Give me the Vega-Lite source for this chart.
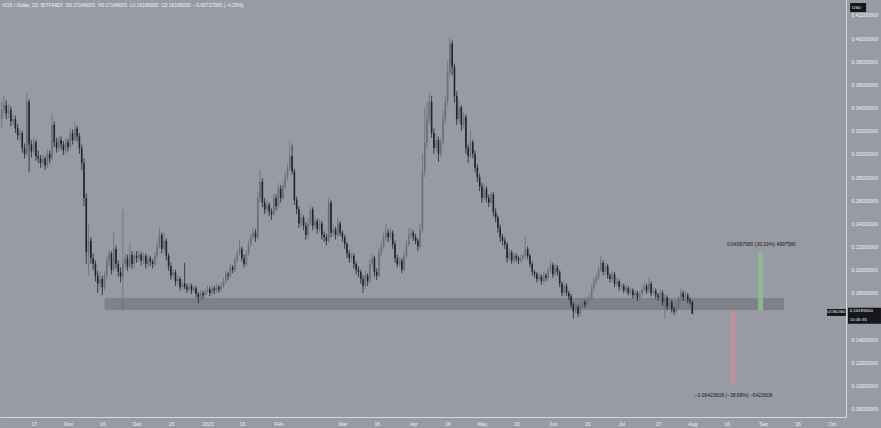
{
 "$schema": "https://vega.github.io/schema/vega-lite/v6.json",
 "width": 846,
 "height": 417,
 "autosize": {"type": "none"},
 "padding": {"left": 0, "top": 0, "right": 35, "bottom": 11},
 "background": "#989ba4",
 "config": {
  "view": {"stroke": null},
  "font": "Liberation Sans",
  "axis": {"ticks": false, "grid": false, "domainColor": "#d6d8dd", "domainWidth": 1, "labelColor": "#f4f4f4", "labelFontSize": 5, "labelFont": "Liberation Sans", "labelFlush": false, "labelOverlap": false, "labelSeparation": 0, "title": null}
 },
 "datasets": {
  "candles": [
   {"t":"2022-10-03","o":0.330,"h":0.345,"l":0.322,"c":0.338},
   {"t":"2022-10-04","o":0.338,"h":0.350,"l":0.333,"c":0.342},
   {"t":"2022-10-05","o":0.342,"h":0.346,"l":0.330,"c":0.335},
   {"t":"2022-10-06","o":0.335,"h":0.343,"l":0.331,"c":0.338},
   {"t":"2022-10-07","o":0.338,"h":0.341,"l":0.324,"c":0.328},
   {"t":"2022-10-08","o":0.328,"h":0.334,"l":0.325,"c":0.330},
   {"t":"2022-10-09","o":0.330,"h":0.333,"l":0.318,"c":0.322},
   {"t":"2022-10-10","o":0.322,"h":0.326,"l":0.312,"c":0.316},
   {"t":"2022-10-11","o":0.316,"h":0.322,"l":0.311,"c":0.318},
   {"t":"2022-10-12","o":0.318,"h":0.320,"l":0.301,"c":0.305},
   {"t":"2022-10-13","o":0.305,"h":0.309,"l":0.296,"c":0.300},
   {"t":"2022-10-14","o":0.300,"h":0.352,"l":0.298,"c":0.345},
   {"t":"2022-10-15","o":0.345,"h":0.347,"l":0.284,"c":0.308},
   {"t":"2022-10-16","o":0.308,"h":0.312,"l":0.297,"c":0.302},
   {"t":"2022-10-17","o":0.302,"h":0.314,"l":0.299,"c":0.310},
   {"t":"2022-10-18","o":0.310,"h":0.312,"l":0.294,"c":0.298},
   {"t":"2022-10-19","o":0.298,"h":0.303,"l":0.292,"c":0.296},
   {"t":"2022-10-20","o":0.296,"h":0.299,"l":0.288,"c":0.292},
   {"t":"2022-10-21","o":0.292,"h":0.300,"l":0.289,"c":0.296},
   {"t":"2022-10-22","o":0.296,"h":0.298,"l":0.286,"c":0.290},
   {"t":"2022-10-23","o":0.290,"h":0.304,"l":0.288,"c":0.300},
   {"t":"2022-10-24","o":0.300,"h":0.303,"l":0.292,"c":0.296},
   {"t":"2022-10-25","o":0.296,"h":0.335,"l":0.294,"c":0.325},
   {"t":"2022-10-26","o":0.325,"h":0.328,"l":0.306,"c":0.310},
   {"t":"2022-10-27","o":0.310,"h":0.314,"l":0.301,"c":0.305},
   {"t":"2022-10-28","o":0.305,"h":0.316,"l":0.302,"c":0.312},
   {"t":"2022-10-29","o":0.312,"h":0.315,"l":0.304,"c":0.308},
   {"t":"2022-10-30","o":0.308,"h":0.311,"l":0.299,"c":0.303},
   {"t":"2022-10-31","o":0.303,"h":0.314,"l":0.300,"c":0.310},
   {"t":"2022-11-01","o":0.310,"h":0.313,"l":0.302,"c":0.306},
   {"t":"2022-11-02","o":0.306,"h":0.322,"l":0.304,"c":0.318},
   {"t":"2022-11-03","o":0.318,"h":0.321,"l":0.308,"c":0.312},
   {"t":"2022-11-04","o":0.312,"h":0.328,"l":0.310,"c":0.322},
   {"t":"2022-11-05","o":0.322,"h":0.324,"l":0.311,"c":0.315},
   {"t":"2022-11-06","o":0.315,"h":0.318,"l":0.300,"c":0.305},
   {"t":"2022-11-07","o":0.305,"h":0.308,"l":0.286,"c":0.292},
   {"t":"2022-11-08","o":0.292,"h":0.296,"l":0.255,"c":0.262},
   {"t":"2022-11-09","o":0.262,"h":0.266,"l":0.205,"c":0.215},
   {"t":"2022-11-10","o":0.215,"h":0.240,"l":0.195,"c":0.225},
   {"t":"2022-11-11","o":0.225,"h":0.228,"l":0.205,"c":0.210},
   {"t":"2022-11-12","o":0.210,"h":0.214,"l":0.200,"c":0.205},
   {"t":"2022-11-13","o":0.205,"h":0.208,"l":0.190,"c":0.195},
   {"t":"2022-11-14","o":0.195,"h":0.199,"l":0.180,"c":0.188},
   {"t":"2022-11-15","o":0.188,"h":0.198,"l":0.184,"c":0.192},
   {"t":"2022-11-16","o":0.192,"h":0.195,"l":0.178,"c":0.185},
   {"t":"2022-11-17","o":0.185,"h":0.199,"l":0.182,"c":0.195},
   {"t":"2022-11-18","o":0.195,"h":0.212,"l":0.192,"c":0.208},
   {"t":"2022-11-19","o":0.208,"h":0.218,"l":0.204,"c":0.214},
   {"t":"2022-11-20","o":0.214,"h":0.216,"l":0.196,"c":0.200},
   {"t":"2022-11-21","o":0.200,"h":0.232,"l":0.198,"c":0.218},
   {"t":"2022-11-22","o":0.218,"h":0.221,"l":0.201,"c":0.205},
   {"t":"2022-11-23","o":0.205,"h":0.208,"l":0.194,"c":0.198},
   {"t":"2022-11-24","o":0.198,"h":0.202,"l":0.189,"c":0.194},
   {"t":"2022-11-25","o":0.194,"h":0.252,"l":0.165,"c":0.205},
   {"t":"2022-11-26","o":0.205,"h":0.214,"l":0.201,"c":0.210},
   {"t":"2022-11-27","o":0.210,"h":0.213,"l":0.199,"c":0.203},
   {"t":"2022-11-28","o":0.203,"h":0.223,"l":0.201,"c":0.213},
   {"t":"2022-11-29","o":0.213,"h":0.216,"l":0.201,"c":0.205},
   {"t":"2022-11-30","o":0.205,"h":0.215,"l":0.202,"c":0.212},
   {"t":"2022-12-01","o":0.212,"h":0.216,"l":0.206,"c":0.210},
   {"t":"2022-12-02","o":0.210,"h":0.217,"l":0.207,"c":0.213},
   {"t":"2022-12-03","o":0.213,"h":0.215,"l":0.204,"c":0.208},
   {"t":"2022-12-04","o":0.208,"h":0.215,"l":0.205,"c":0.212},
   {"t":"2022-12-05","o":0.212,"h":0.214,"l":0.201,"c":0.205},
   {"t":"2022-12-06","o":0.205,"h":0.213,"l":0.202,"c":0.210},
   {"t":"2022-12-07","o":0.210,"h":0.212,"l":0.203,"c":0.207},
   {"t":"2022-12-08","o":0.207,"h":0.209,"l":0.201,"c":0.205},
   {"t":"2022-12-09","o":0.205,"h":0.215,"l":0.203,"c":0.212},
   {"t":"2022-12-10","o":0.212,"h":0.224,"l":0.210,"c":0.220},
   {"t":"2022-12-11","o":0.220,"h":0.236,"l":0.218,"c":0.230},
   {"t":"2022-12-12","o":0.230,"h":0.232,"l":0.214,"c":0.218},
   {"t":"2022-12-13","o":0.218,"h":0.232,"l":0.215,"c":0.225},
   {"t":"2022-12-14","o":0.225,"h":0.227,"l":0.208,"c":0.212},
   {"t":"2022-12-15","o":0.212,"h":0.214,"l":0.199,"c":0.203},
   {"t":"2022-12-16","o":0.203,"h":0.206,"l":0.191,"c":0.195},
   {"t":"2022-12-17","o":0.195,"h":0.201,"l":0.192,"c":0.198},
   {"t":"2022-12-18","o":0.198,"h":0.200,"l":0.186,"c":0.190},
   {"t":"2022-12-19","o":0.190,"h":0.195,"l":0.187,"c":0.192},
   {"t":"2022-12-20","o":0.192,"h":0.194,"l":0.182,"c":0.185},
   {"t":"2022-12-21","o":0.185,"h":0.191,"l":0.183,"c":0.188},
   {"t":"2022-12-22","o":0.188,"h":0.206,"l":0.183,"c":0.185},
   {"t":"2022-12-23","o":0.185,"h":0.188,"l":0.180,"c":0.183},
   {"t":"2022-12-24","o":0.183,"h":0.189,"l":0.181,"c":0.186},
   {"t":"2022-12-25","o":0.186,"h":0.188,"l":0.179,"c":0.182},
   {"t":"2022-12-26","o":0.182,"h":0.187,"l":0.180,"c":0.184},
   {"t":"2022-12-27","o":0.184,"h":0.186,"l":0.176,"c":0.179},
   {"t":"2022-12-28","o":0.179,"h":0.181,"l":0.171,"c":0.176},
   {"t":"2022-12-29","o":0.176,"h":0.183,"l":0.174,"c":0.180},
   {"t":"2022-12-30","o":0.180,"h":0.182,"l":0.175,"c":0.178},
   {"t":"2022-12-31","o":0.178,"h":0.184,"l":0.176,"c":0.181},
   {"t":"2023-01-01","o":0.181,"h":0.186,"l":0.179,"c":0.183},
   {"t":"2023-01-02","o":0.183,"h":0.185,"l":0.177,"c":0.180},
   {"t":"2023-01-03","o":0.180,"h":0.187,"l":0.178,"c":0.184},
   {"t":"2023-01-04","o":0.184,"h":0.186,"l":0.179,"c":0.182},
   {"t":"2023-01-05","o":0.182,"h":0.188,"l":0.180,"c":0.185},
   {"t":"2023-01-06","o":0.185,"h":0.187,"l":0.180,"c":0.183},
   {"t":"2023-01-07","o":0.183,"h":0.189,"l":0.181,"c":0.186},
   {"t":"2023-01-08","o":0.186,"h":0.193,"l":0.184,"c":0.190},
   {"t":"2023-01-09","o":0.190,"h":0.199,"l":0.188,"c":0.196},
   {"t":"2023-01-10","o":0.196,"h":0.198,"l":0.191,"c":0.195},
   {"t":"2023-01-11","o":0.195,"h":0.205,"l":0.193,"c":0.202},
   {"t":"2023-01-12","o":0.202,"h":0.204,"l":0.197,"c":0.200},
   {"t":"2023-01-13","o":0.200,"h":0.211,"l":0.198,"c":0.208},
   {"t":"2023-01-14","o":0.208,"h":0.217,"l":0.206,"c":0.214},
   {"t":"2023-01-15","o":0.214,"h":0.226,"l":0.212,"c":0.218},
   {"t":"2023-01-16","o":0.218,"h":0.220,"l":0.207,"c":0.210},
   {"t":"2023-01-17","o":0.210,"h":0.213,"l":0.202,"c":0.205},
   {"t":"2023-01-18","o":0.205,"h":0.217,"l":0.203,"c":0.214},
   {"t":"2023-01-19","o":0.214,"h":0.225,"l":0.212,"c":0.222},
   {"t":"2023-01-20","o":0.222,"h":0.231,"l":0.220,"c":0.228},
   {"t":"2023-01-21","o":0.228,"h":0.236,"l":0.226,"c":0.232},
   {"t":"2023-01-22","o":0.232,"h":0.235,"l":0.224,"c":0.228},
   {"t":"2023-01-23","o":0.228,"h":0.268,"l":0.226,"c":0.262},
   {"t":"2023-01-24","o":0.262,"h":0.286,"l":0.258,"c":0.276},
   {"t":"2023-01-25","o":0.276,"h":0.279,"l":0.254,"c":0.258},
   {"t":"2023-01-26","o":0.258,"h":0.262,"l":0.248,"c":0.252},
   {"t":"2023-01-27","o":0.252,"h":0.260,"l":0.249,"c":0.256},
   {"t":"2023-01-28","o":0.256,"h":0.258,"l":0.246,"c":0.250},
   {"t":"2023-01-29","o":0.250,"h":0.253,"l":0.243,"c":0.248},
   {"t":"2023-01-30","o":0.248,"h":0.266,"l":0.246,"c":0.262},
   {"t":"2023-01-31","o":0.262,"h":0.265,"l":0.251,"c":0.255},
   {"t":"2023-02-01","o":0.255,"h":0.275,"l":0.253,"c":0.270},
   {"t":"2023-02-02","o":0.270,"h":0.273,"l":0.258,"c":0.262},
   {"t":"2023-02-03","o":0.262,"h":0.276,"l":0.260,"c":0.272},
   {"t":"2023-02-04","o":0.272,"h":0.284,"l":0.270,"c":0.280},
   {"t":"2023-02-05","o":0.280,"h":0.292,"l":0.277,"c":0.288},
   {"t":"2023-02-06","o":0.288,"h":0.310,"l":0.285,"c":0.298},
   {"t":"2023-02-07","o":0.298,"h":0.308,"l":0.282,"c":0.285},
   {"t":"2023-02-08","o":0.285,"h":0.287,"l":0.256,"c":0.260},
   {"t":"2023-02-09","o":0.260,"h":0.263,"l":0.248,"c":0.252},
   {"t":"2023-02-10","o":0.252,"h":0.255,"l":0.236,"c":0.240},
   {"t":"2023-02-11","o":0.240,"h":0.249,"l":0.237,"c":0.245},
   {"t":"2023-02-12","o":0.245,"h":0.247,"l":0.234,"c":0.238},
   {"t":"2023-02-13","o":0.238,"h":0.241,"l":0.226,"c":0.230},
   {"t":"2023-02-14","o":0.230,"h":0.244,"l":0.228,"c":0.240},
   {"t":"2023-02-15","o":0.240,"h":0.256,"l":0.238,"c":0.252},
   {"t":"2023-02-16","o":0.252,"h":0.254,"l":0.234,"c":0.238},
   {"t":"2023-02-17","o":0.238,"h":0.246,"l":0.235,"c":0.242},
   {"t":"2023-02-18","o":0.242,"h":0.244,"l":0.231,"c":0.235},
   {"t":"2023-02-19","o":0.235,"h":0.244,"l":0.233,"c":0.240},
   {"t":"2023-02-20","o":0.240,"h":0.242,"l":0.226,"c":0.230},
   {"t":"2023-02-21","o":0.230,"h":0.233,"l":0.224,"c":0.228},
   {"t":"2023-02-22","o":0.228,"h":0.231,"l":0.221,"c":0.225},
   {"t":"2023-02-23","o":0.225,"h":0.262,"l":0.223,"c":0.258},
   {"t":"2023-02-24","o":0.258,"h":0.260,"l":0.228,"c":0.232},
   {"t":"2023-02-25","o":0.232,"h":0.239,"l":0.229,"c":0.235},
   {"t":"2023-02-26","o":0.235,"h":0.237,"l":0.226,"c":0.230},
   {"t":"2023-02-27","o":0.230,"h":0.245,"l":0.228,"c":0.240},
   {"t":"2023-02-28","o":0.240,"h":0.242,"l":0.229,"c":0.232},
   {"t":"2023-03-01","o":0.232,"h":0.234,"l":0.224,"c":0.228},
   {"t":"2023-03-02","o":0.228,"h":0.230,"l":0.218,"c":0.222},
   {"t":"2023-03-03","o":0.222,"h":0.224,"l":0.210,"c":0.214},
   {"t":"2023-03-04","o":0.214,"h":0.217,"l":0.206,"c":0.210},
   {"t":"2023-03-05","o":0.210,"h":0.215,"l":0.207,"c":0.212},
   {"t":"2023-03-06","o":0.212,"h":0.214,"l":0.201,"c":0.205},
   {"t":"2023-03-07","o":0.205,"h":0.207,"l":0.196,"c":0.200},
   {"t":"2023-03-08","o":0.200,"h":0.203,"l":0.194,"c":0.198},
   {"t":"2023-03-09","o":0.198,"h":0.200,"l":0.188,"c":0.192},
   {"t":"2023-03-10","o":0.192,"h":0.195,"l":0.180,"c":0.186},
   {"t":"2023-03-11","o":0.186,"h":0.199,"l":0.183,"c":0.195},
   {"t":"2023-03-12","o":0.195,"h":0.197,"l":0.186,"c":0.190},
   {"t":"2023-03-13","o":0.190,"h":0.209,"l":0.188,"c":0.205},
   {"t":"2023-03-14","o":0.205,"h":0.214,"l":0.202,"c":0.210},
   {"t":"2023-03-15","o":0.210,"h":0.212,"l":0.194,"c":0.198},
   {"t":"2023-03-16","o":0.198,"h":0.201,"l":0.191,"c":0.195},
   {"t":"2023-03-17","o":0.195,"h":0.219,"l":0.193,"c":0.215},
   {"t":"2023-03-18","o":0.215,"h":0.224,"l":0.212,"c":0.220},
   {"t":"2023-03-19","o":0.220,"h":0.232,"l":0.218,"c":0.228},
   {"t":"2023-03-20","o":0.228,"h":0.240,"l":0.225,"c":0.232},
   {"t":"2023-03-21","o":0.232,"h":0.235,"l":0.224,"c":0.228},
   {"t":"2023-03-22","o":0.228,"h":0.236,"l":0.226,"c":0.232},
   {"t":"2023-03-23","o":0.232,"h":0.234,"l":0.218,"c":0.222},
   {"t":"2023-03-24","o":0.222,"h":0.225,"l":0.206,"c":0.210},
   {"t":"2023-03-25","o":0.210,"h":0.213,"l":0.202,"c":0.205},
   {"t":"2023-03-26","o":0.205,"h":0.211,"l":0.203,"c":0.208},
   {"t":"2023-03-27","o":0.208,"h":0.210,"l":0.197,"c":0.200},
   {"t":"2023-03-28","o":0.200,"h":0.216,"l":0.198,"c":0.212},
   {"t":"2023-03-29","o":0.212,"h":0.226,"l":0.210,"c":0.222},
   {"t":"2023-03-30","o":0.222,"h":0.236,"l":0.220,"c":0.230},
   {"t":"2023-03-31","o":0.230,"h":0.235,"l":0.227,"c":0.232},
   {"t":"2023-04-01","o":0.232,"h":0.234,"l":0.225,"c":0.228},
   {"t":"2023-04-02","o":0.228,"h":0.231,"l":0.222,"c":0.225},
   {"t":"2023-04-03","o":0.225,"h":0.227,"l":0.216,"c":0.220},
   {"t":"2023-04-04","o":0.220,"h":0.240,"l":0.218,"c":0.235},
   {"t":"2023-04-05","o":0.235,"h":0.300,"l":0.232,"c":0.285},
   {"t":"2023-04-06","o":0.285,"h":0.340,"l":0.280,"c":0.310},
   {"t":"2023-04-07","o":0.310,"h":0.345,"l":0.305,"c":0.330},
   {"t":"2023-04-08","o":0.330,"h":0.352,"l":0.325,"c":0.345},
   {"t":"2023-04-09","o":0.345,"h":0.350,"l":0.314,"c":0.318},
   {"t":"2023-04-10","o":0.318,"h":0.322,"l":0.300,"c":0.305},
   {"t":"2023-04-11","o":0.305,"h":0.318,"l":0.302,"c":0.312},
   {"t":"2023-04-12","o":0.312,"h":0.315,"l":0.293,"c":0.300},
   {"t":"2023-04-13","o":0.300,"h":0.314,"l":0.297,"c":0.310},
   {"t":"2023-04-14","o":0.310,"h":0.338,"l":0.308,"c":0.330},
   {"t":"2023-04-15","o":0.330,"h":0.350,"l":0.326,"c":0.345},
   {"t":"2023-04-16","o":0.345,"h":0.380,"l":0.342,"c":0.370},
   {"t":"2023-04-17","o":0.370,"h":0.400,"l":0.366,"c":0.395},
   {"t":"2023-04-18","o":0.395,"h":0.398,"l":0.368,"c":0.375},
   {"t":"2023-04-19","o":0.375,"h":0.378,"l":0.344,"c":0.350},
   {"t":"2023-04-20","o":0.350,"h":0.354,"l":0.325,"c":0.330},
   {"t":"2023-04-21","o":0.330,"h":0.345,"l":0.327,"c":0.340},
   {"t":"2023-04-22","o":0.340,"h":0.342,"l":0.320,"c":0.325},
   {"t":"2023-04-23","o":0.325,"h":0.336,"l":0.322,"c":0.332},
   {"t":"2023-04-24","o":0.332,"h":0.334,"l":0.300,"c":0.305},
   {"t":"2023-04-25","o":0.305,"h":0.308,"l":0.292,"c":0.298},
   {"t":"2023-04-26","o":0.298,"h":0.320,"l":0.296,"c":0.310},
   {"t":"2023-04-27","o":0.310,"h":0.312,"l":0.296,"c":0.300},
   {"t":"2023-04-28","o":0.300,"h":0.303,"l":0.284,"c":0.288},
   {"t":"2023-04-29","o":0.288,"h":0.291,"l":0.276,"c":0.280},
   {"t":"2023-04-30","o":0.280,"h":0.283,"l":0.268,"c":0.272},
   {"t":"2023-05-01","o":0.272,"h":0.275,"l":0.258,"c":0.262},
   {"t":"2023-05-02","o":0.262,"h":0.274,"l":0.260,"c":0.270},
   {"t":"2023-05-03","o":0.270,"h":0.272,"l":0.258,"c":0.262},
   {"t":"2023-05-04","o":0.262,"h":0.265,"l":0.254,"c":0.258},
   {"t":"2023-05-05","o":0.258,"h":0.268,"l":0.256,"c":0.265},
   {"t":"2023-05-06","o":0.265,"h":0.267,"l":0.246,"c":0.250},
   {"t":"2023-05-07","o":0.250,"h":0.253,"l":0.241,"c":0.245},
   {"t":"2023-05-08","o":0.245,"h":0.247,"l":0.232,"c":0.236},
   {"t":"2023-05-09","o":0.236,"h":0.239,"l":0.224,"c":0.228},
   {"t":"2023-05-10","o":0.228,"h":0.231,"l":0.221,"c":0.225},
   {"t":"2023-05-11","o":0.225,"h":0.228,"l":0.218,"c":0.222},
   {"t":"2023-05-12","o":0.222,"h":0.224,"l":0.206,"c":0.210},
   {"t":"2023-05-13","o":0.210,"h":0.218,"l":0.208,"c":0.215},
   {"t":"2023-05-14","o":0.215,"h":0.217,"l":0.205,"c":0.208},
   {"t":"2023-05-15","o":0.208,"h":0.215,"l":0.206,"c":0.212},
   {"t":"2023-05-16","o":0.212,"h":0.214,"l":0.207,"c":0.210},
   {"t":"2023-05-17","o":0.210,"h":0.212,"l":0.205,"c":0.208},
   {"t":"2023-05-18","o":0.208,"h":0.213,"l":0.206,"c":0.210},
   {"t":"2023-05-19","o":0.210,"h":0.215,"l":0.208,"c":0.212},
   {"t":"2023-05-20","o":0.212,"h":0.228,"l":0.210,"c":0.218},
   {"t":"2023-05-21","o":0.218,"h":0.220,"l":0.209,"c":0.212},
   {"t":"2023-05-22","o":0.212,"h":0.214,"l":0.202,"c":0.205},
   {"t":"2023-05-23","o":0.205,"h":0.207,"l":0.195,"c":0.198},
   {"t":"2023-05-24","o":0.198,"h":0.200,"l":0.193,"c":0.196},
   {"t":"2023-05-25","o":0.196,"h":0.198,"l":0.189,"c":0.192},
   {"t":"2023-05-26","o":0.192,"h":0.197,"l":0.190,"c":0.194},
   {"t":"2023-05-27","o":0.194,"h":0.196,"l":0.187,"c":0.190},
   {"t":"2023-05-28","o":0.190,"h":0.198,"l":0.188,"c":0.195},
   {"t":"2023-05-29","o":0.195,"h":0.197,"l":0.190,"c":0.193},
   {"t":"2023-05-30","o":0.193,"h":0.202,"l":0.191,"c":0.199},
   {"t":"2023-05-31","o":0.199,"h":0.208,"l":0.197,"c":0.204},
   {"t":"2023-06-01","o":0.204,"h":0.206,"l":0.193,"c":0.196},
   {"t":"2023-06-02","o":0.196,"h":0.205,"l":0.194,"c":0.202},
   {"t":"2023-06-03","o":0.202,"h":0.204,"l":0.195,"c":0.198},
   {"t":"2023-06-04","o":0.198,"h":0.200,"l":0.185,"c":0.188},
   {"t":"2023-06-05","o":0.188,"h":0.190,"l":0.177,"c":0.180},
   {"t":"2023-06-06","o":0.180,"h":0.189,"l":0.178,"c":0.186},
   {"t":"2023-06-07","o":0.186,"h":0.188,"l":0.177,"c":0.180},
   {"t":"2023-06-08","o":0.180,"h":0.182,"l":0.174,"c":0.177},
   {"t":"2023-06-09","o":0.177,"h":0.179,"l":0.167,"c":0.170},
   {"t":"2023-06-10","o":0.170,"h":0.172,"l":0.158,"c":0.164},
   {"t":"2023-06-11","o":0.164,"h":0.171,"l":0.162,"c":0.168},
   {"t":"2023-06-12","o":0.168,"h":0.170,"l":0.159,"c":0.162},
   {"t":"2023-06-13","o":0.162,"h":0.171,"l":0.160,"c":0.168},
   {"t":"2023-06-14","o":0.168,"h":0.175,"l":0.166,"c":0.172},
   {"t":"2023-06-15","o":0.172,"h":0.174,"l":0.167,"c":0.170},
   {"t":"2023-06-16","o":0.170,"h":0.177,"l":0.168,"c":0.174},
   {"t":"2023-06-17","o":0.174,"h":0.179,"l":0.172,"c":0.176},
   {"t":"2023-06-18","o":0.176,"h":0.187,"l":0.174,"c":0.184},
   {"t":"2023-06-19","o":0.184,"h":0.193,"l":0.182,"c":0.190},
   {"t":"2023-06-20","o":0.190,"h":0.196,"l":0.187,"c":0.193},
   {"t":"2023-06-21","o":0.193,"h":0.203,"l":0.191,"c":0.200},
   {"t":"2023-06-22","o":0.200,"h":0.212,"l":0.198,"c":0.206},
   {"t":"2023-06-23","o":0.206,"h":0.208,"l":0.195,"c":0.198},
   {"t":"2023-06-24","o":0.198,"h":0.206,"l":0.196,"c":0.203},
   {"t":"2023-06-25","o":0.203,"h":0.205,"l":0.192,"c":0.195},
   {"t":"2023-06-26","o":0.195,"h":0.197,"l":0.189,"c":0.192},
   {"t":"2023-06-27","o":0.192,"h":0.199,"l":0.190,"c":0.196},
   {"t":"2023-06-28","o":0.196,"h":0.198,"l":0.185,"c":0.188},
   {"t":"2023-06-29","o":0.188,"h":0.193,"l":0.186,"c":0.190},
   {"t":"2023-06-30","o":0.190,"h":0.192,"l":0.182,"c":0.185},
   {"t":"2023-07-01","o":0.185,"h":0.189,"l":0.183,"c":0.186},
   {"t":"2023-07-02","o":0.186,"h":0.188,"l":0.180,"c":0.182},
   {"t":"2023-07-03","o":0.182,"h":0.187,"l":0.180,"c":0.184},
   {"t":"2023-07-04","o":0.184,"h":0.186,"l":0.178,"c":0.180},
   {"t":"2023-07-05","o":0.180,"h":0.185,"l":0.178,"c":0.182},
   {"t":"2023-07-06","o":0.182,"h":0.184,"l":0.175,"c":0.178},
   {"t":"2023-07-07","o":0.178,"h":0.183,"l":0.176,"c":0.180},
   {"t":"2023-07-08","o":0.180,"h":0.182,"l":0.173,"c":0.176},
   {"t":"2023-07-09","o":0.176,"h":0.182,"l":0.174,"c":0.179},
   {"t":"2023-07-10","o":0.179,"h":0.186,"l":0.177,"c":0.183},
   {"t":"2023-07-11","o":0.183,"h":0.189,"l":0.181,"c":0.186},
   {"t":"2023-07-12","o":0.186,"h":0.188,"l":0.179,"c":0.182},
   {"t":"2023-07-13","o":0.182,"h":0.193,"l":0.180,"c":0.188},
   {"t":"2023-07-14","o":0.188,"h":0.190,"l":0.177,"c":0.180},
   {"t":"2023-07-15","o":0.180,"h":0.185,"l":0.178,"c":0.182},
   {"t":"2023-07-16","o":0.182,"h":0.184,"l":0.175,"c":0.178},
   {"t":"2023-07-17","o":0.178,"h":0.180,"l":0.173,"c":0.176},
   {"t":"2023-07-18","o":0.176,"h":0.183,"l":0.174,"c":0.180},
   {"t":"2023-07-19","o":0.180,"h":0.182,"l":0.169,"c":0.172},
   {"t":"2023-07-20","o":0.172,"h":0.179,"l":0.158,"c":0.176},
   {"t":"2023-07-21","o":0.176,"h":0.178,"l":0.165,"c":0.168},
   {"t":"2023-07-22","o":0.168,"h":0.175,"l":0.166,"c":0.172},
   {"t":"2023-07-23","o":0.172,"h":0.174,"l":0.163,"c":0.166},
   {"t":"2023-07-24","o":0.166,"h":0.168,"l":0.161,"c":0.164},
   {"t":"2023-07-25","o":0.164,"h":0.171,"l":0.162,"c":0.168},
   {"t":"2023-07-26","o":0.168,"h":0.178,"l":0.166,"c":0.175},
   {"t":"2023-07-27","o":0.175,"h":0.184,"l":0.173,"c":0.180},
   {"t":"2023-07-28","o":0.180,"h":0.182,"l":0.173,"c":0.176},
   {"t":"2023-07-29","o":0.176,"h":0.181,"l":0.174,"c":0.178},
   {"t":"2023-07-30","o":0.178,"h":0.180,"l":0.171,"c":0.174},
   {"t":"2023-07-31","o":0.174,"h":0.176,"l":0.170,"c":0.17246},
   {"t":"2023-08-01","o":0.17246,"h":0.17246,"l":0.1619,"c":0.16189}
  ],
  "zones": [
   {"x1":"2022-11-17T00:00:00Z","x2":"2023-09-10T00:00:00Z","y1":0.1653,"y2":0.1757}
  ],
  "measures": [
   {"x1":"2023-08-29T18:00:00Z","x2":"2023-08-31T23:00:00Z","y1":0.1648,"y2":0.2148,"kind":"gain"},
   {"x1":"2023-08-17T22:00:00Z","x2":"2023-08-20T02:00:00Z","y1":0.1006,"y2":0.1636,"kind":"loss"}
  ],
  "notes": [
   {"x":"2023-08-31T05:00:00Z","y":0.2225,"text":"0.04997580 (30.29%) 4997580"},
   {"x":"2023-08-19T00:00:00Z","y":0.0919,"text":"−0.06423608 (−38.98%) −6423608"}
  ],
  "tags": [
   {"x1":"2023-09-28T21:00:00Z","x2":"2023-10-07T05:00:00Z","y1":0.1601,"y2":0.1661},
   {"x1":"2023-10-08T02:00:00Z","x2":"2023-10-22T12:00:00Z","y1":0.1533,"y2":0.1672},
   {"x1":"2023-10-09T00:00:00Z","x2":"2023-10-16T00:00:00Z","y1":0.4224,"y2":0.4302}
  ],
  "tagcenter": [
   {"x":"2023-10-03T00:00:00Z","y":0.1631,"text":"UOSUSD"}
  ],
  "tagleft": [
   {"x":"2023-10-08T21:00:00Z","y":0.1644,"text":"0.16189000"},
   {"x":"2023-10-08T21:00:00Z","y":0.1568,"text":"10:45:35"},
   {"x":"2023-10-09T20:00:00Z","y":0.4263,"text":"USD"}
  ],
  "heading": [
   {"x":"2022-10-03T03:00:00Z","y":0.4276,"text":"UOS / Dollar, 1D, BITFINEX\u00a0\u00a0O0.17246000\u00a0\u00a0H0.17246000\u00a0\u00a0L0.16190000\u00a0\u00a0C0.16189000\u00a0\u00a0−0.00727000 (−4.25%)"}
  ]
 },
 "layer": [
  {
   "data": {"name": "zones"},
   "mark": {"type": "rect", "color": "#7e8189"},
   "encoding": {
    "x": {"field": "x1", "type": "temporal", "title": null, "scale": {"type": "utc", "padding": 0, "domain": [{"year": 2022, "month": 10, "date": 2, "hours": 6, "minutes": 26, "utc": true}, {"year": 2023, "month": 10, "date": 7, "hours": 5, "utc": true}]},
     "axis": {"values": [{"year":2022,"month":10,"date":17,"utc":true},{"year":2022,"month":11,"date":1,"utc":true},{"year":2022,"month":11,"date":16,"utc":true},{"year":2022,"month":12,"date":1,"utc":true},{"year":2022,"month":12,"date":16,"utc":true},{"year":2023,"month":1,"date":1,"utc":true},{"year":2023,"month":1,"date":16,"utc":true},{"year":2023,"month":2,"date":1,"utc":true},{"year":2023,"month":3,"date":1,"utc":true},{"year":2023,"month":3,"date":16,"utc":true},{"year":2023,"month":4,"date":1,"utc":true},{"year":2023,"month":4,"date":16,"utc":true},{"year":2023,"month":5,"date":1,"utc":true},{"year":2023,"month":5,"date":16,"utc":true},{"year":2023,"month":6,"date":1,"utc":true},{"year":2023,"month":6,"date":16,"utc":true},{"year":2023,"month":7,"date":1,"utc":true},{"year":2023,"month":7,"date":17,"utc":true},{"year":2023,"month":8,"date":1,"utc":true},{"year":2023,"month":8,"date":16,"utc":true},{"year":2023,"month":9,"date":1,"utc":true},{"year":2023,"month":9,"date":16,"utc":true},{"year":2023,"month":10,"date":1,"utc":true}], "labelExpr": "utcdate(datum.value) == 1 ? (utcmonth(datum.value) == 0 ? utcFormat(datum.value, '%Y') : utcFormat(datum.value, '%b')) : utcFormat(datum.value, '%d')", "labelPadding": 4, "labelOverlap": false, "labelFlush": false}},
    "x2": {"field": "x2"},
    "y": {"field": "y1", "type": "quantitative", "title": null, "scale": {"domain": [0.0729, 0.4328], "nice": false, "zero": false, "padding": 0},
     "axis": {"orient": "right", "values": [0.08,0.10,0.12,0.14,0.18,0.20,0.22,0.24,0.26,0.28,0.30,0.32,0.34,0.36,0.38,0.40,0.42], "format": ".8f", "labelPadding": 5, "labelAlign": "left", "labelBaseline": "middle", "labelOverlap": false, "labelFlush": false}},
    "y2": {"field": "y2"}
   }
  },
  {
   "data": {"name": "candles"},
   "mark": {"type": "rule", "strokeWidth": 0.8},
   "encoding": {
    "x": {"field": "t", "type": "temporal", "title": null, "scale": {"type": "utc", "padding": 0, "domain": [{"year": 2022, "month": 10, "date": 2, "hours": 6, "minutes": 26, "utc": true}, {"year": 2023, "month": 10, "date": 7, "hours": 5, "utc": true}]},
     "axis": {"values": [{"year":2022,"month":10,"date":17,"utc":true},{"year":2022,"month":11,"date":1,"utc":true},{"year":2022,"month":11,"date":16,"utc":true},{"year":2022,"month":12,"date":1,"utc":true},{"year":2022,"month":12,"date":16,"utc":true},{"year":2023,"month":1,"date":1,"utc":true},{"year":2023,"month":1,"date":16,"utc":true},{"year":2023,"month":2,"date":1,"utc":true},{"year":2023,"month":3,"date":1,"utc":true},{"year":2023,"month":3,"date":16,"utc":true},{"year":2023,"month":4,"date":1,"utc":true},{"year":2023,"month":4,"date":16,"utc":true},{"year":2023,"month":5,"date":1,"utc":true},{"year":2023,"month":5,"date":16,"utc":true},{"year":2023,"month":6,"date":1,"utc":true},{"year":2023,"month":6,"date":16,"utc":true},{"year":2023,"month":7,"date":1,"utc":true},{"year":2023,"month":7,"date":17,"utc":true},{"year":2023,"month":8,"date":1,"utc":true},{"year":2023,"month":8,"date":16,"utc":true},{"year":2023,"month":9,"date":1,"utc":true},{"year":2023,"month":9,"date":16,"utc":true},{"year":2023,"month":10,"date":1,"utc":true}], "labelExpr": "utcdate(datum.value) == 1 ? (utcmonth(datum.value) == 0 ? utcFormat(datum.value, '%Y') : utcFormat(datum.value, '%b')) : utcFormat(datum.value, '%d')", "labelPadding": 4, "labelOverlap": false, "labelFlush": false}},
    "y": {"field": "l", "type": "quantitative", "title": null, "scale": {"domain": [0.0729, 0.4328], "nice": false, "zero": false, "padding": 0},
     "axis": {"orient": "right", "values": [0.08,0.10,0.12,0.14,0.18,0.20,0.22,0.24,0.26,0.28,0.30,0.32,0.34,0.36,0.38,0.40,0.42], "format": ".8f", "labelPadding": 5, "labelAlign": "left", "labelBaseline": "middle", "labelOverlap": false, "labelFlush": false}},
    "y2": {"field": "h"},
    "color": {"condition": {"test": "datum.c >= datum.o", "value": "#6c6f78"}, "value": "#23252b"}
   }
  },
  {
   "data": {"name": "candles"},
   "mark": {"type": "bar", "size": 1.6},
   "encoding": {
    "x": {"field": "t", "type": "temporal", "title": null, "scale": {"type": "utc", "padding": 0, "domain": [{"year": 2022, "month": 10, "date": 2, "hours": 6, "minutes": 26, "utc": true}, {"year": 2023, "month": 10, "date": 7, "hours": 5, "utc": true}]},
     "axis": {"values": [{"year":2022,"month":10,"date":17,"utc":true},{"year":2022,"month":11,"date":1,"utc":true},{"year":2022,"month":11,"date":16,"utc":true},{"year":2022,"month":12,"date":1,"utc":true},{"year":2022,"month":12,"date":16,"utc":true},{"year":2023,"month":1,"date":1,"utc":true},{"year":2023,"month":1,"date":16,"utc":true},{"year":2023,"month":2,"date":1,"utc":true},{"year":2023,"month":3,"date":1,"utc":true},{"year":2023,"month":3,"date":16,"utc":true},{"year":2023,"month":4,"date":1,"utc":true},{"year":2023,"month":4,"date":16,"utc":true},{"year":2023,"month":5,"date":1,"utc":true},{"year":2023,"month":5,"date":16,"utc":true},{"year":2023,"month":6,"date":1,"utc":true},{"year":2023,"month":6,"date":16,"utc":true},{"year":2023,"month":7,"date":1,"utc":true},{"year":2023,"month":7,"date":17,"utc":true},{"year":2023,"month":8,"date":1,"utc":true},{"year":2023,"month":8,"date":16,"utc":true},{"year":2023,"month":9,"date":1,"utc":true},{"year":2023,"month":9,"date":16,"utc":true},{"year":2023,"month":10,"date":1,"utc":true}], "labelExpr": "utcdate(datum.value) == 1 ? (utcmonth(datum.value) == 0 ? utcFormat(datum.value, '%Y') : utcFormat(datum.value, '%b')) : utcFormat(datum.value, '%d')", "labelPadding": 4, "labelOverlap": false, "labelFlush": false}},
    "y": {"field": "o", "type": "quantitative", "title": null, "scale": {"domain": [0.0729, 0.4328], "nice": false, "zero": false, "padding": 0},
     "axis": {"orient": "right", "values": [0.08,0.10,0.12,0.14,0.18,0.20,0.22,0.24,0.26,0.28,0.30,0.32,0.34,0.36,0.38,0.40,0.42], "format": ".8f", "labelPadding": 5, "labelAlign": "left", "labelBaseline": "middle", "labelOverlap": false, "labelFlush": false}},
    "y2": {"field": "c"},
    "color": {"condition": {"test": "datum.c >= datum.o", "value": "#6c6f78"}, "value": "#23252b"}
   }
  },
  {
   "data": {"name": "measures"},
   "mark": {"type": "rect", "opacity": 0.85},
   "encoding": {
    "x": {"field": "x1", "type": "temporal", "title": null, "scale": {"type": "utc", "padding": 0, "domain": [{"year": 2022, "month": 10, "date": 2, "hours": 6, "minutes": 26, "utc": true}, {"year": 2023, "month": 10, "date": 7, "hours": 5, "utc": true}]},
     "axis": {"values": [{"year":2022,"month":10,"date":17,"utc":true},{"year":2022,"month":11,"date":1,"utc":true},{"year":2022,"month":11,"date":16,"utc":true},{"year":2022,"month":12,"date":1,"utc":true},{"year":2022,"month":12,"date":16,"utc":true},{"year":2023,"month":1,"date":1,"utc":true},{"year":2023,"month":1,"date":16,"utc":true},{"year":2023,"month":2,"date":1,"utc":true},{"year":2023,"month":3,"date":1,"utc":true},{"year":2023,"month":3,"date":16,"utc":true},{"year":2023,"month":4,"date":1,"utc":true},{"year":2023,"month":4,"date":16,"utc":true},{"year":2023,"month":5,"date":1,"utc":true},{"year":2023,"month":5,"date":16,"utc":true},{"year":2023,"month":6,"date":1,"utc":true},{"year":2023,"month":6,"date":16,"utc":true},{"year":2023,"month":7,"date":1,"utc":true},{"year":2023,"month":7,"date":17,"utc":true},{"year":2023,"month":8,"date":1,"utc":true},{"year":2023,"month":8,"date":16,"utc":true},{"year":2023,"month":9,"date":1,"utc":true},{"year":2023,"month":9,"date":16,"utc":true},{"year":2023,"month":10,"date":1,"utc":true}], "labelExpr": "utcdate(datum.value) == 1 ? (utcmonth(datum.value) == 0 ? utcFormat(datum.value, '%Y') : utcFormat(datum.value, '%b')) : utcFormat(datum.value, '%d')", "labelPadding": 4, "labelOverlap": false, "labelFlush": false}},
    "x2": {"field": "x2"},
    "y": {"field": "y1", "type": "quantitative", "title": null, "scale": {"domain": [0.0729, 0.4328], "nice": false, "zero": false, "padding": 0},
     "axis": {"orient": "right", "values": [0.08,0.10,0.12,0.14,0.18,0.20,0.22,0.24,0.26,0.28,0.30,0.32,0.34,0.36,0.38,0.40,0.42], "format": ".8f", "labelPadding": 5, "labelAlign": "left", "labelBaseline": "middle", "labelOverlap": false, "labelFlush": false}},
    "y2": {"field": "y2"},
    "color": {"field": "kind", "type": "nominal", "scale": {"domain": ["gain", "loss"], "range": ["#8fc08d", "#c78d95"]}, "legend": null}
   }
  },
  {
   "data": {"name": "notes"},
   "mark": {"type": "text", "fontSize": 5, "font": "Liberation Sans", "color": "#1b1c20", "align": "center", "baseline": "middle"},
   "encoding": {
    "x": {"field": "x", "type": "temporal", "title": null, "scale": {"type": "utc", "padding": 0, "domain": [{"year": 2022, "month": 10, "date": 2, "hours": 6, "minutes": 26, "utc": true}, {"year": 2023, "month": 10, "date": 7, "hours": 5, "utc": true}]},
     "axis": {"values": [{"year":2022,"month":10,"date":17,"utc":true},{"year":2022,"month":11,"date":1,"utc":true},{"year":2022,"month":11,"date":16,"utc":true},{"year":2022,"month":12,"date":1,"utc":true},{"year":2022,"month":12,"date":16,"utc":true},{"year":2023,"month":1,"date":1,"utc":true},{"year":2023,"month":1,"date":16,"utc":true},{"year":2023,"month":2,"date":1,"utc":true},{"year":2023,"month":3,"date":1,"utc":true},{"year":2023,"month":3,"date":16,"utc":true},{"year":2023,"month":4,"date":1,"utc":true},{"year":2023,"month":4,"date":16,"utc":true},{"year":2023,"month":5,"date":1,"utc":true},{"year":2023,"month":5,"date":16,"utc":true},{"year":2023,"month":6,"date":1,"utc":true},{"year":2023,"month":6,"date":16,"utc":true},{"year":2023,"month":7,"date":1,"utc":true},{"year":2023,"month":7,"date":17,"utc":true},{"year":2023,"month":8,"date":1,"utc":true},{"year":2023,"month":8,"date":16,"utc":true},{"year":2023,"month":9,"date":1,"utc":true},{"year":2023,"month":9,"date":16,"utc":true},{"year":2023,"month":10,"date":1,"utc":true}], "labelExpr": "utcdate(datum.value) == 1 ? (utcmonth(datum.value) == 0 ? utcFormat(datum.value, '%Y') : utcFormat(datum.value, '%b')) : utcFormat(datum.value, '%d')", "labelPadding": 4, "labelOverlap": false, "labelFlush": false}},
    "y": {"field": "y", "type": "quantitative", "title": null, "scale": {"domain": [0.0729, 0.4328], "nice": false, "zero": false, "padding": 0},
     "axis": {"orient": "right", "values": [0.08,0.10,0.12,0.14,0.18,0.20,0.22,0.24,0.26,0.28,0.30,0.32,0.34,0.36,0.38,0.40,0.42], "format": ".8f", "labelPadding": 5, "labelAlign": "left", "labelBaseline": "middle", "labelOverlap": false, "labelFlush": false}},
    "text": {"field": "text"}
   }
  },
  {
   "data": {"name": "tags"},
   "mark": {"type": "rect", "color": "#15171c"},
   "encoding": {
    "x": {"field": "x1", "type": "temporal", "title": null, "scale": {"type": "utc", "padding": 0, "domain": [{"year": 2022, "month": 10, "date": 2, "hours": 6, "minutes": 26, "utc": true}, {"year": 2023, "month": 10, "date": 7, "hours": 5, "utc": true}]},
     "axis": {"values": [{"year":2022,"month":10,"date":17,"utc":true},{"year":2022,"month":11,"date":1,"utc":true},{"year":2022,"month":11,"date":16,"utc":true},{"year":2022,"month":12,"date":1,"utc":true},{"year":2022,"month":12,"date":16,"utc":true},{"year":2023,"month":1,"date":1,"utc":true},{"year":2023,"month":1,"date":16,"utc":true},{"year":2023,"month":2,"date":1,"utc":true},{"year":2023,"month":3,"date":1,"utc":true},{"year":2023,"month":3,"date":16,"utc":true},{"year":2023,"month":4,"date":1,"utc":true},{"year":2023,"month":4,"date":16,"utc":true},{"year":2023,"month":5,"date":1,"utc":true},{"year":2023,"month":5,"date":16,"utc":true},{"year":2023,"month":6,"date":1,"utc":true},{"year":2023,"month":6,"date":16,"utc":true},{"year":2023,"month":7,"date":1,"utc":true},{"year":2023,"month":7,"date":17,"utc":true},{"year":2023,"month":8,"date":1,"utc":true},{"year":2023,"month":8,"date":16,"utc":true},{"year":2023,"month":9,"date":1,"utc":true},{"year":2023,"month":9,"date":16,"utc":true},{"year":2023,"month":10,"date":1,"utc":true}], "labelExpr": "utcdate(datum.value) == 1 ? (utcmonth(datum.value) == 0 ? utcFormat(datum.value, '%Y') : utcFormat(datum.value, '%b')) : utcFormat(datum.value, '%d')", "labelPadding": 4, "labelOverlap": false, "labelFlush": false}},
    "x2": {"field": "x2"},
    "y": {"field": "y1", "type": "quantitative", "title": null, "scale": {"domain": [0.0729, 0.4328], "nice": false, "zero": false, "padding": 0},
     "axis": {"orient": "right", "values": [0.08,0.10,0.12,0.14,0.18,0.20,0.22,0.24,0.26,0.28,0.30,0.32,0.34,0.36,0.38,0.40,0.42], "format": ".8f", "labelPadding": 5, "labelAlign": "left", "labelBaseline": "middle", "labelOverlap": false, "labelFlush": false}},
    "y2": {"field": "y2"}
   }
  },
  {
   "data": {"name": "tagcenter"},
   "mark": {"type": "text", "fontSize": 4.4, "font": "Liberation Sans", "color": "#f4f4f4", "align": "center", "baseline": "middle"},
   "encoding": {
    "x": {"field": "x", "type": "temporal", "title": null, "scale": {"type": "utc", "padding": 0, "domain": [{"year": 2022, "month": 10, "date": 2, "hours": 6, "minutes": 26, "utc": true}, {"year": 2023, "month": 10, "date": 7, "hours": 5, "utc": true}]},
     "axis": {"values": [{"year":2022,"month":10,"date":17,"utc":true},{"year":2022,"month":11,"date":1,"utc":true},{"year":2022,"month":11,"date":16,"utc":true},{"year":2022,"month":12,"date":1,"utc":true},{"year":2022,"month":12,"date":16,"utc":true},{"year":2023,"month":1,"date":1,"utc":true},{"year":2023,"month":1,"date":16,"utc":true},{"year":2023,"month":2,"date":1,"utc":true},{"year":2023,"month":3,"date":1,"utc":true},{"year":2023,"month":3,"date":16,"utc":true},{"year":2023,"month":4,"date":1,"utc":true},{"year":2023,"month":4,"date":16,"utc":true},{"year":2023,"month":5,"date":1,"utc":true},{"year":2023,"month":5,"date":16,"utc":true},{"year":2023,"month":6,"date":1,"utc":true},{"year":2023,"month":6,"date":16,"utc":true},{"year":2023,"month":7,"date":1,"utc":true},{"year":2023,"month":7,"date":17,"utc":true},{"year":2023,"month":8,"date":1,"utc":true},{"year":2023,"month":8,"date":16,"utc":true},{"year":2023,"month":9,"date":1,"utc":true},{"year":2023,"month":9,"date":16,"utc":true},{"year":2023,"month":10,"date":1,"utc":true}], "labelExpr": "utcdate(datum.value) == 1 ? (utcmonth(datum.value) == 0 ? utcFormat(datum.value, '%Y') : utcFormat(datum.value, '%b')) : utcFormat(datum.value, '%d')", "labelPadding": 4, "labelOverlap": false, "labelFlush": false}},
    "y": {"field": "y", "type": "quantitative", "title": null, "scale": {"domain": [0.0729, 0.4328], "nice": false, "zero": false, "padding": 0},
     "axis": {"orient": "right", "values": [0.08,0.10,0.12,0.14,0.18,0.20,0.22,0.24,0.26,0.28,0.30,0.32,0.34,0.36,0.38,0.40,0.42], "format": ".8f", "labelPadding": 5, "labelAlign": "left", "labelBaseline": "middle", "labelOverlap": false, "labelFlush": false}},
    "text": {"field": "text"}
   }
  },
  {
   "data": {"name": "tagleft"},
   "mark": {"type": "text", "fontSize": 4.4, "font": "Liberation Sans", "color": "#f4f4f4", "align": "left", "baseline": "middle"},
   "encoding": {
    "x": {"field": "x", "type": "temporal", "title": null, "scale": {"type": "utc", "padding": 0, "domain": [{"year": 2022, "month": 10, "date": 2, "hours": 6, "minutes": 26, "utc": true}, {"year": 2023, "month": 10, "date": 7, "hours": 5, "utc": true}]},
     "axis": {"values": [{"year":2022,"month":10,"date":17,"utc":true},{"year":2022,"month":11,"date":1,"utc":true},{"year":2022,"month":11,"date":16,"utc":true},{"year":2022,"month":12,"date":1,"utc":true},{"year":2022,"month":12,"date":16,"utc":true},{"year":2023,"month":1,"date":1,"utc":true},{"year":2023,"month":1,"date":16,"utc":true},{"year":2023,"month":2,"date":1,"utc":true},{"year":2023,"month":3,"date":1,"utc":true},{"year":2023,"month":3,"date":16,"utc":true},{"year":2023,"month":4,"date":1,"utc":true},{"year":2023,"month":4,"date":16,"utc":true},{"year":2023,"month":5,"date":1,"utc":true},{"year":2023,"month":5,"date":16,"utc":true},{"year":2023,"month":6,"date":1,"utc":true},{"year":2023,"month":6,"date":16,"utc":true},{"year":2023,"month":7,"date":1,"utc":true},{"year":2023,"month":7,"date":17,"utc":true},{"year":2023,"month":8,"date":1,"utc":true},{"year":2023,"month":8,"date":16,"utc":true},{"year":2023,"month":9,"date":1,"utc":true},{"year":2023,"month":9,"date":16,"utc":true},{"year":2023,"month":10,"date":1,"utc":true}], "labelExpr": "utcdate(datum.value) == 1 ? (utcmonth(datum.value) == 0 ? utcFormat(datum.value, '%Y') : utcFormat(datum.value, '%b')) : utcFormat(datum.value, '%d')", "labelPadding": 4, "labelOverlap": false, "labelFlush": false}},
    "y": {"field": "y", "type": "quantitative", "title": null, "scale": {"domain": [0.0729, 0.4328], "nice": false, "zero": false, "padding": 0},
     "axis": {"orient": "right", "values": [0.08,0.10,0.12,0.14,0.18,0.20,0.22,0.24,0.26,0.28,0.30,0.32,0.34,0.36,0.38,0.40,0.42], "format": ".8f", "labelPadding": 5, "labelAlign": "left", "labelBaseline": "middle", "labelOverlap": false, "labelFlush": false}},
    "text": {"field": "text"}
   }
  },
  {
   "data": {"name": "heading"},
   "mark": {"type": "text", "fontSize": 4.9, "font": "Liberation Sans", "color": "#f4f4f4", "align": "left", "baseline": "middle"},
   "encoding": {
    "x": {"field": "x", "type": "temporal", "title": null, "scale": {"type": "utc", "padding": 0, "domain": [{"year": 2022, "month": 10, "date": 2, "hours": 6, "minutes": 26, "utc": true}, {"year": 2023, "month": 10, "date": 7, "hours": 5, "utc": true}]},
     "axis": {"values": [{"year":2022,"month":10,"date":17,"utc":true},{"year":2022,"month":11,"date":1,"utc":true},{"year":2022,"month":11,"date":16,"utc":true},{"year":2022,"month":12,"date":1,"utc":true},{"year":2022,"month":12,"date":16,"utc":true},{"year":2023,"month":1,"date":1,"utc":true},{"year":2023,"month":1,"date":16,"utc":true},{"year":2023,"month":2,"date":1,"utc":true},{"year":2023,"month":3,"date":1,"utc":true},{"year":2023,"month":3,"date":16,"utc":true},{"year":2023,"month":4,"date":1,"utc":true},{"year":2023,"month":4,"date":16,"utc":true},{"year":2023,"month":5,"date":1,"utc":true},{"year":2023,"month":5,"date":16,"utc":true},{"year":2023,"month":6,"date":1,"utc":true},{"year":2023,"month":6,"date":16,"utc":true},{"year":2023,"month":7,"date":1,"utc":true},{"year":2023,"month":7,"date":17,"utc":true},{"year":2023,"month":8,"date":1,"utc":true},{"year":2023,"month":8,"date":16,"utc":true},{"year":2023,"month":9,"date":1,"utc":true},{"year":2023,"month":9,"date":16,"utc":true},{"year":2023,"month":10,"date":1,"utc":true}], "labelExpr": "utcdate(datum.value) == 1 ? (utcmonth(datum.value) == 0 ? utcFormat(datum.value, '%Y') : utcFormat(datum.value, '%b')) : utcFormat(datum.value, '%d')", "labelPadding": 4, "labelOverlap": false, "labelFlush": false}},
    "y": {"field": "y", "type": "quantitative", "title": null, "scale": {"domain": [0.0729, 0.4328], "nice": false, "zero": false, "padding": 0},
     "axis": {"orient": "right", "values": [0.08,0.10,0.12,0.14,0.18,0.20,0.22,0.24,0.26,0.28,0.30,0.32,0.34,0.36,0.38,0.40,0.42], "format": ".8f", "labelPadding": 5, "labelAlign": "left", "labelBaseline": "middle", "labelOverlap": false, "labelFlush": false}},
    "text": {"field": "text"}
   }
  }
 ]
}
